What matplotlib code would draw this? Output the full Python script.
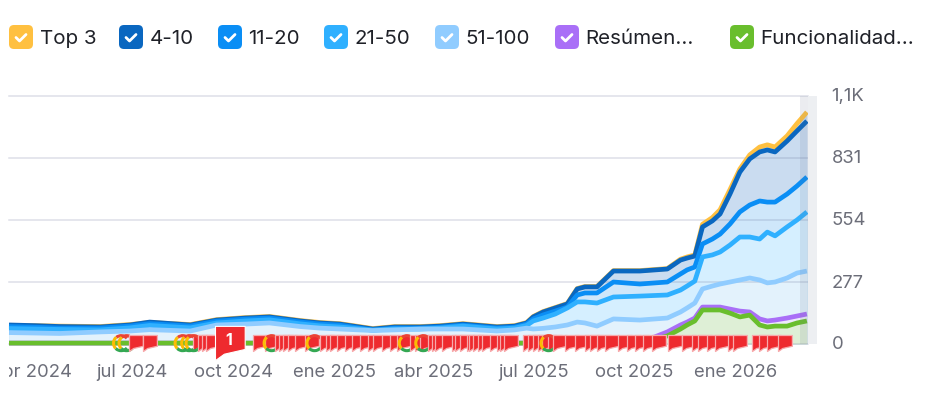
import matplotlib
matplotlib.use("Agg")
import matplotlib.pyplot as plt
import pandas as pd
from matplotlib.patches import FancyBboxPatch, Rectangle
from matplotlib.path import Path
from matplotlib.transforms import Bbox

plt.rcParams['font.family'] = ['Inter', 'DejaVu Sans']

# Data
START = "2024-03-11"
END_DAY = 727
day_offsets = [0, 24, 46, 83, 110, 128, 165, 189, 215, 237, 265, 283, 301, 331, 351, 374,
               392, 413, 444, 460, 471, 477, 486, 497, 508, 517, 524, 535, 550, 574, 599,
               611, 617, 624, 631, 640, 647, 656, 665, 674, 683, 690, 697, 708, 717, 726]
top3 = [82, 82, 80, 78, 87, 96, 87, 109, 118, 123, 105, 96, 91, 69, 78, 78,
        82, 91, 78, 82, 96, 123, 145, 163, 181, 248, 257, 257, 328, 328, 337,
        379, 389, 398, 535, 565, 600, 690, 782, 845, 880, 890, 880, 930, 985, 1036]
pos_4_10 = [85, 82, 78, 76, 85, 98, 85, 107, 116, 121, 103, 94, 89, 67, 76, 76,
            80, 89, 76, 80, 94, 121, 143, 161, 179, 246, 255, 255, 326, 326, 335,
            375, 384, 393, 523, 550, 581, 670, 768, 827, 858, 867, 858, 907, 952, 996]
pos_11_20 = [78, 75, 71, 71, 80, 91, 80, 102, 111, 116, 98, 89, 84, 62, 71, 71,
             75, 84, 71, 75, 89, 112, 130, 147, 165, 219, 228, 228, 277, 268, 277,
             313, 331, 344, 447, 469, 491, 536, 590, 621, 639, 634, 634, 670, 706, 746]
pos_21_50 = [69, 67, 65, 63, 72, 83, 72, 94, 103, 108, 90, 81, 76, 62, 67, 67,
             71, 80, 67, 71, 83, 103, 116, 134, 161, 188, 188, 183, 210, 214, 219,
             241, 259, 281, 389, 398, 411, 442, 478, 478, 469, 500, 483, 523, 554, 590]
pos_51_100 = [51, 49, 47, 54, 58, 64, 58, 85, 89, 94, 78, 71, 67, 60, 63, 67,
              67, 67, 58, 63, 71, 67, 70, 76, 85, 98, 94, 80, 112, 107, 116,
              143, 161, 183, 246, 259, 268, 277, 286, 295, 286, 273, 277, 295, 317, 326]
resumen = [4, 4, 4, 4, 4, 4, 4, 4, 4, 4, 4, 4, 4, 4, 4, 4,
           4, 4, 4, 4, 4, 4, 4, 4, 4, 4, 4, 4, 4, 5, 54,
           85, 98, 116, 165, 165, 165, 156, 147, 143, 112, 103, 107, 116, 125, 134]
funcionalidad = [4, 4, 4, 4, 4, 4, 4, 4, 4, 4, 4, 4, 4, 4, 4, 4,
                 4, 4, 4, 4, 4, 4, 4, 4, 4, 4, 4, 4, 4, 4, 36,
                 67, 85, 103, 152, 152, 152, 138, 121, 129, 85, 76, 80, 80, 94, 103]

legend_labels = ["Top 3", "4-10", "11-20", "21-50", "51-100", "Resúmen...", "Funcionalidad..."]
line_colors = ["#FFC040", "#0A67C0", "#0A8EF5", "#2FB0FF", "#90CCFF", "#A96FF7", "#69BE2D"]
fill_colors = ["#CADCF0", "#CADCF0", "#CFE7FA", "#D5EFFF", "#E3F2FC", "#EDEBFA", "#DEEFD6"]
series = [top3, pos_4_10, pos_11_20, pos_21_50, pos_51_100, resumen, funcionalidad]

y_ticks = [0, 277, 554, 831, 1108]
y_labels = ["0", "277", "554", "831", "1,1K"]
x_ticks = ["2024-04-01", "2024-07-01", "2024-10-01", "2025-01-01", "2025-04-01",
           "2025-07-01", "2025-10-01", "2026-01-01"]
x_labels = ["abr 2024", "jul 2024", "oct 2024", "ene 2025", "abr 2025",
            "jul 2025", "oct 2025", "ene 2026"]

# annotation flags and google update icons, days since START
flag_days = [109, 122, 167, 172, 176, 179, 222, 233, 242, 246, 249, 254, 260, 269, 283, 288,
             292, 298, 306, 312, 319, 327, 331, 339, 347, 353, 365, 369, 374, 381, 385, 388,
             394, 403, 406, 410, 417, 419, 422, 427, 430, 438, 444, 447, 450, 468, 472, 477,
             481, 485, 490, 495, 506, 515, 524, 529, 535, 542, 554, 562, 570, 577, 585, 600,
             612, 621, 627, 635, 642, 654, 659, 676, 682, 690, 700]
big_flag_day = 187
big_flag_text = "1"
google_days = [102, 107, 158, 164, 168, 239, 278, 362, 377, 491]

start = pd.Timestamp(START)
dates = start + pd.to_timedelta(day_offsets, unit="D")

W, H = 931, 406
fig = plt.figure(figsize=(W / 100, H / 100), dpi=100)
ax = fig.add_axes([9 / W, (H - 345) / H, 799 / W, 248 / H])
ax.set_xlim(start, start + pd.Timedelta(days=END_DAY))
ax.set_ylim(0, 1108)

for s, fc in zip(series, fill_colors):
    ax.fill_between(dates, 0, s, color=fc, lw=0, zorder=1)

for yv in y_ticks:
    ax.axhline(yv, color=(0.35, 0.38, 0.55, 0.2), lw=1.1, zorder=2, clip_on=False)

for i, (s, lc) in enumerate(zip(series, line_colors)):
    ax.plot(dates, s, color=lc, lw=3.4, zorder=3 + i * 0.1, solid_joinstyle="round",
            solid_capstyle="butt", clip_on=False)

# last, incomplete stretch of the chart
ax.axvspan(start + pd.Timedelta(days=720), start + pd.Timedelta(days=END_DAY),
           color=(0.4, 0.45, 0.55, 0.13), lw=0, zorder=4)

# open rings: red on top, yellow on the left, green below
# zorder follows the day, so each flag covers the icons before it
for d in google_days:
    x = start + pd.Timedelta(days=d)
    for arc, col in [(Path.arc(40, 130), "#EA4335"), (Path.arc(130, 225), "#FBBC05"),
                     (Path.arc(225, 320), "#34A853")]:
        ax.scatter([x], [4], marker=arc, s=120, facecolors="none", edgecolors=col,
                   linewidths=2.2, zorder=5 + d / 1000 + 0.0005, clip_on=False)

# red flags with their tail at the lower left
flag_shape = Path([(0, 0.576), (1, 0.576), (1, -0.2), (0.3, -0.36), (0, -0.576), (0, 0.576)],
                  closed=True)
for d in flag_days:
    ax.scatter([start + pd.Timedelta(days=d)], [4], marker=flag_shape, s=400, c="#EE2A2E",
               edgecolors="#F7A9AB", linewidths=0.9, zorder=5 + d / 1000, clip_on=False)
big_x = start + pd.Timedelta(days=big_flag_day)
ax.scatter([big_x], [4], marker=flag_shape, s=1830, c="#EE2A2E", edgecolors="white",
           linewidths=0.8, zorder=7, clip_on=False)

ax.set_xticks(pd.to_datetime(x_ticks))
ax.set_xticklabels(x_labels, fontsize=13.3, color="#6C6E79")
ax.set_yticks(y_ticks)
ax.set_yticklabels(y_labels, fontsize=13.3, color="#6C6E79")
ax.yaxis.tick_right()
ax.tick_params(axis="x", length=0, pad=14)
ax.tick_params(axis="y", length=0, pad=17)
for lab in ax.get_yticklabels():
    lab.set_verticalalignment("center")
for lab in ax.get_xticklabels():
    lab.set_clip_box(Bbox([[9, 0], [W, H]]))
    lab.set_clip_on(True)
for sp in ax.spines.values():
    sp.set_visible(False)

# overlay in pixel coordinates for the legend and the side strip
ov = fig.add_axes([0, 0, 1, 1], zorder=10)
ov.set_xlim(0, W)
ov.set_ylim(H, 0)
ov.axis("off")
ov.patch.set_alpha(0)
ov.add_patch(Rectangle((808, 97), 9, 248, color="#EDEFF2", lw=0))
ov.text(229, 341, big_flag_text, color="white", fontsize=11.5, fontweight="bold",
        ha="center", va="center")

box_x = [9, 119, 218, 324, 435, 555, 730]
for bx, lab, col in zip(box_x, legend_labels, line_colors):
    ov.add_patch(FancyBboxPatch((bx + 4, 30), 16, 16, boxstyle="round,pad=4,rounding_size=5",
                                fc=col, ec="none"))
    ov.plot([bx + 7, bx + 10.5, bx + 17], [38.5, 42, 35.5], color="white", lw=2,
            solid_capstyle="round", solid_joinstyle="round")
    ov.text(bx + 30.5, 39, lab, fontsize=14.8, color="#1F2128", va="center", ha="left")

fig.savefig("out.png", dpi=100)
